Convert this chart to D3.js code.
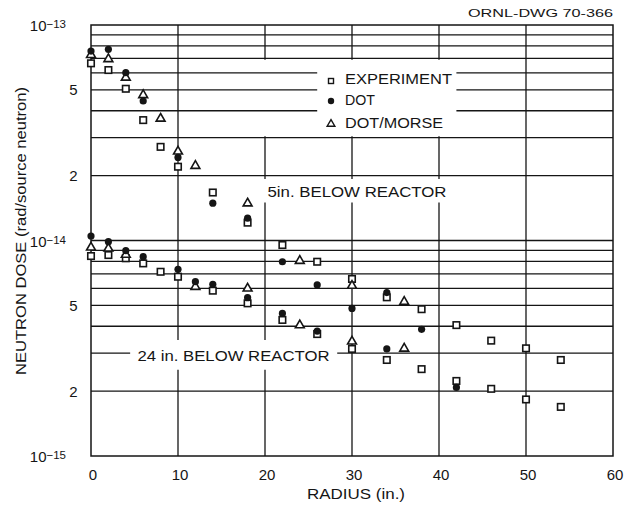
<!DOCTYPE html>
<html><head><meta charset="utf-8">
<script src="https://cdn.jsdelivr.net/npm/d3@7"></script>
<style>body{margin:0;background:#fff}svg{display:block}</style>
</head><body><svg id="c" width="637" height="505"></svg>
<script>
// ---------- data (values in units of 1e-15 rad/source neutron) ----------
const UNIT = 1e-15;
const xTicks = [0, 10, 20, 30, 40, 50, 60];
const yTickVals = [1e-13, 5e-14, 2e-14, 1e-14, 5e-15, 2e-15, 1e-15];
const yTickBase = ["10", "5", "2", "10", "5", "2", "10"];
const yTickExp = ["\u221213", "", "", "\u221214", "", "", "\u221215"];
const legendNames = ["EXPERIMENT", "DOT", "DOT/MORSE"];

// 5 in. below reactor
const exp5R = [0, 2, 4, 6, 8, 10, 14, 18, 22, 26, 30, 34, 38, 42, 46, 50, 54];
const exp5V = [66.4, 61.8, 50.6, 36.2, 27.2, 22.0, 16.7, 12.1, 9.53, 7.97, 6.63, 5.45, 4.80, 4.05, 3.43, 3.16, 2.79];
const dot5R = [0, 2, 4, 6, 10, 14, 18, 22, 26, 30, 34, 38];
const dot5V = [75.7, 77.1, 60.1, 44.4, 24.3, 14.9, 12.7, 7.97, 6.22, 4.84, 5.73, 3.87];
const mor5R = [0, 2, 4, 6, 8, 10, 12, 18, 24, 30, 36];
const mor5V = [73.3, 70.1, 57.5, 47.7, 37.1, 26.1, 22.4, 15.0, 8.12, 6.22, 5.24];
// 24 in. below reactor
const exp24R = [0, 2, 4, 6, 8, 10, 14, 18, 22, 26, 30, 34, 38, 42, 46, 50, 54];
const exp24V = [8.47, 8.56, 8.27, 7.83, 7.16, 6.79, 5.85, 5.11, 4.28, 3.68, 3.14, 2.79, 2.53, 2.23, 2.05, 1.83, 1.69];
const dot24R = [0, 2, 4, 6, 10, 12, 14, 18, 22, 26, 34, 42];
const dot24V = [10.49, 9.87, 8.97, 8.41, 7.35, 6.44, 6.26, 5.43, 4.59, 3.80, 3.14, 2.08];
const mor24R = [0, 2, 4, 12, 18, 24, 30, 36];
const mor24V = [9.36, 9.26, 8.66, 6.15, 6.04, 4.08, 3.43, 3.18];

// ---------- layout ----------
const svg = d3.select("#c");
const FONT = "'Liberation Sans', Arial, sans-serif";
const INK = "#151515";
const x = d3.scaleLinear().domain([0, 60]).range([91, 613]);
const y = d3.scaleLog().domain([1e-15, 1e-13]).range([456, 25]);

// grid gaps (where lettering interrupts the ruling)
const hGaps = new Map([[6e-14, [[26, 42]]], [5e-14, [[26, 42]]], [4e-14, [[26, 42]]], [3e-15, [[4.5, 28.3]]]]);
const vGaps = new Map([
  [10, [[3.45e-15, 2.51e-15]]],
  [20, [[6.9e-14, 3.05e-14], [1.93e-14, 1.5e-14], [3.45e-15, 2.51e-15]]],
  [30, [[6.9e-14, 3.05e-14], [1.93e-14, 1.5e-14]]],
  [40, [[6.9e-14, 3.05e-14], [1.93e-14, 1.5e-14]]],
  [50, []]
]);

function segs(a, b, gaps) {
  const out = []; let s = a;
  (gaps || []).slice().sort((p, q) => p[0] - q[0]).forEach(([g0, g1]) => { out.push([s, g0]); s = g1; });
  out.push([s, b]);
  return out;
}

const grid = svg.append("g").attr("stroke", INK).attr("stroke-width", 1.3).attr("fill", "none");
// horizontal rulings
const hVals = [];
[-15, -14].forEach(n => { for (let k = 1; k <= 9; k++) { if (!(n === -15 && k === 1)) hVals.push(+(k * Math.pow(10, n)).toPrecision(3)); } });
hVals.forEach(v => {
  const g = hGaps.get(v);
  segs(0, 60, g).forEach(([a, b]) => {
    grid.append("line").attr("x1", x(a)).attr("x2", x(b)).attr("y1", y(v)).attr("y2", y(v));
  });
});
// top ruling region (9e-14 .. 2e-14 lines in upper decade)
// vertical rulings
[10, 20, 30, 40, 50].forEach(r => {
  const g = vGaps.get(r).map(([t, b]) => [t, b]);
  // convert gaps in value space (top value, bottom value) to pixel space segments
  let s = y(1e-13);
  const pix = g.map(([t, b]) => [y(t), y(b)]).sort((p, q) => p[0] - q[0]);
  pix.forEach(([p0, p1]) => { grid.append("line").attr("x1", x(r)).attr("x2", x(r)).attr("y1", s).attr("y2", p0); s = p1; });
  grid.append("line").attr("x1", x(r)).attr("x2", x(r)).attr("y1", s).attr("y2", y(1e-15));
});
// frame
grid.append("rect").attr("x", x(0)).attr("y", y(1e-13)).attr("width", x(60) - x(0)).attr("height", y(1e-15) - y(1e-13)).attr("stroke-width", 1.5);

// ---------- markers ----------
const marks = svg.append("g");
function pts(R, V) { return R.map((r, i) => ({ r, v: V[i] * UNIT })); }
const sq = 6.5, tri = d3.symbol().type(d3.symbolTriangle).size(34);
function drawSquares(data) {
  marks.selectAll(null).data(data).enter().append("rect")
    .attr("x", d => x(d.r) - sq / 2).attr("y", d => y(d.v) - sq / 2).attr("width", sq).attr("height", sq)
    .attr("fill", "#fff").attr("stroke", INK).attr("stroke-width", 1.6);
}
function drawTriangles(data) {
  marks.selectAll(null).data(data).enter().append("path").attr("d", tri)
    .attr("transform", d => `translate(${x(d.r)},${y(d.v) + 0.8})`)
    .attr("fill", "#fff").attr("stroke", INK).attr("stroke-width", 1.6).attr("stroke-linejoin", "miter");
}
function drawCircles(data) {
  marks.selectAll(null).data(data).enter().append("circle")
    .attr("cx", d => x(d.r)).attr("cy", d => y(d.v)).attr("r", 3.6).attr("fill", INK);
}
drawSquares(pts(exp5R, exp5V)); drawSquares(pts(exp24R, exp24V));
drawTriangles(pts(mor5R, mor5V)); drawTriangles(pts(mor24R, mor24V));
drawCircles(pts(dot5R, dot5V)); drawCircles(pts(dot24R, dot24V));

// ---------- legend ----------
const lg = svg.append("g").attr("font-family", FONT).attr("font-size", 14).attr("fill", INK);
const legY = [79, 100, 122.5];
const legW = [107, 30, 98];
lg.append("rect").attr("x", 331 - 2.5).attr("y", legY[0] + 2 - 2.5).attr("width", 5).attr("height", 5)
  .attr("fill", "#fff").attr("stroke", INK).attr("stroke-width", 1.4);
lg.append("circle").attr("cx", 331).attr("cy", legY[1] + 1).attr("r", 3.2).attr("fill", INK);
lg.append("path").attr("d", d3.symbol().type(d3.symbolTriangle).size(26)).attr("transform", `translate(331,${legY[2] + 1.5})`)
  .attr("fill", "#fff").attr("stroke", INK).attr("stroke-width", 1.4);
legendNames.forEach((n, i) => {
  lg.append("text").attr("x", 345).attr("y", legY[i] + 5).attr("textLength", legW[i]).attr("lengthAdjust", "spacingAndGlyphs").text(n);
});

// ---------- annotations ----------
const ann = svg.append("g").attr("font-family", FONT).attr("fill", INK);
ann.append("text").attr("x", 267.5).attr("y", 197).attr("font-size", 15).attr("textLength", 179).attr("lengthAdjust", "spacingAndGlyphs").text("5in. BELOW REACTOR");
ann.append("text").attr("x", 137.5).attr("y", y(3e-15) + 8).attr("font-size", 15.5).attr("textLength", 192).attr("lengthAdjust", "spacingAndGlyphs").text("24 in. BELOW REACTOR");
ann.append("text").attr("x", 613).attr("y", 17).attr("font-size", 11).attr("text-anchor", "end").attr("textLength", 145).attr("lengthAdjust", "spacingAndGlyphs").text("ORNL-DWG 70-366");

// ---------- axis labels ----------
const ax = svg.append("g").attr("font-family", FONT).attr("fill", INK);
xTicks.forEach(t => {
  ax.append("text").attr("x", x(t) + 2).attr("y", 480).attr("font-size", 15).attr("text-anchor", "middle").text(t);
});
yTickVals.forEach((v, i) => {
  if (yTickExp[i]) {
    const t = ax.append("text").attr("x", 66).attr("y", y(v) + 6).attr("font-size", 15).attr("text-anchor", "end");
    t.append("tspan").text(yTickBase[i]);
    t.append("tspan").attr("font-size", 11.5).attr("dy", -3).text(yTickExp[i]);
  } else {
    ax.append("text").attr("x", 77.5).attr("y", y(v) + 5.5).attr("font-size", 15).attr("text-anchor", "end").text(yTickBase[i]);
  }
});
ax.append("text").attr("x", 356).attr("y", 499).attr("font-size", 14.5).attr("text-anchor", "middle").attr("textLength", 98).attr("lengthAdjust", "spacingAndGlyphs").text("RADIUS (in.)");
ax.append("text").attr("transform", "translate(26,231) rotate(-90)").attr("font-size", 14.5).attr("text-anchor", "middle").attr("textLength", 288).attr("lengthAdjust", "spacingAndGlyphs").text("NEUTRON DOSE (rad/source neutron)");
</script></body></html>
